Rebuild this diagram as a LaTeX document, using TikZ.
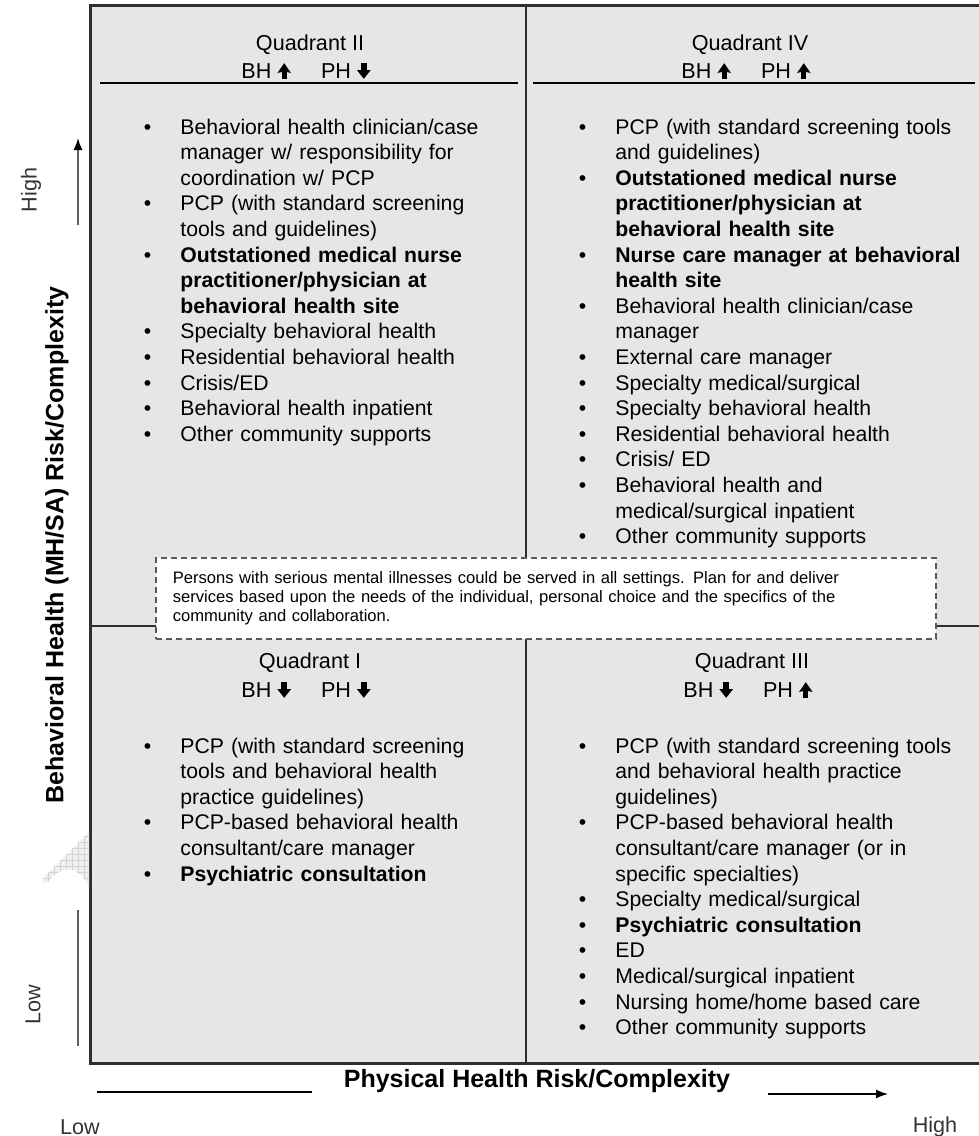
\documentclass[tikz,border=0pt]{standalone}
\usepackage{fontspec}
\setmainfont{Liberation Sans}
\usepackage{enumitem}
\usetikzlibrary{arrows.meta, patterns, positioning}

\definecolor{panelgray}{HTML}{E6E6E6}
\definecolor{framegray}{HTML}{2E2E2E}

% bullet list used in the four quadrants
\newlist{carelist}{itemize}{1}
\setlist[carelist]{label=\textbullet, leftmargin=18.5pt, labelsep=14.5pt,
  labelwidth=4pt, topsep=0pt, partopsep=0pt, itemsep=0pt, parsep=0pt}

% heavy up / down arrows for the BH and PH ratings
\newcommand{\riskup}{\tikz[baseline=0pt]{%
  \fill (-1.3pt,0pt) rectangle (1.3pt,4pt);
  \fill (-3.4pt,2.9pt) -- (0pt,7.8pt) -- (3.4pt,2.9pt) -- (0pt,3.7pt) -- cycle;}}
\newcommand{\riskdown}{\tikz[baseline=0pt]{%
  \fill (-1.4pt,3.2pt) rectangle (1.4pt,7.8pt);
  \fill (-3.4pt,4.3pt) -- (0pt,0pt) -- (3.4pt,4.3pt) -- cycle;}}

\begin{document}
\begin{tikzpicture}[x=0.5pt, y=-0.5pt,% one unit = one pixel, y downwards
          > = {Latex[length=6pt, width=4.5pt]},
frame/.style = {draw=framegray, line width=1.5pt},
divider/.style = {draw=framegray, line width=1pt},
quadhead/.style = {font=\fontsize{10.8}{13}\selectfont, inner sep=0pt},
headrule/.style = {draw=black, line width=0.7pt},
items/.style = {anchor=north west, inner sep=0pt, text width=200pt,
                align=left, font=\fontsize{10.6}{12.8}\selectfont},
notebox/.style = {draw=gray!70!black, densely dashed, line width=0.8pt,
                  fill=white, anchor=north west, inner xsep=8.5pt,
                  text width=373pt, align=left,
                  minimum width=390pt, minimum height=40.5pt,
                  font=\fontsize{8.3}{9.6}\selectfont},
axistitle/.style = {font=\fontsize{12.5}{15}\selectfont\bfseries, inner sep=0pt},
endlabel/.style = {font=\fontsize{10.8}{13}\selectfont, text=black!80, inner sep=0pt},
axisline/.style = {draw=gray!75!black, line width=0.8pt}
                    ]
\useasboundingbox (0,0) rectangle (979,1136);

	% grid of the four quadrants
	\fill[panelgray] (90,5) rectangle (990,1063);
	\draw[divider] (526,5) -- (526,1063);
	\draw[divider] (90,626) -- (990,626);
	\draw[frame] (990,5) -- (90,5) -- (90,1063) -- (990,1063);

	% stray hatched mark at the left edge
	\fill[gray!12] (89,832) -- (44,877) .. controls (41,881) and (44,885) .. (48,882)
	      .. controls (60,867) and (75,862) .. (89,886) -- cycle;
	\fill[pattern=grid, pattern color=gray!35] (89,832) -- (44,877)
	      .. controls (41,881) and (44,885) .. (48,882)
	      .. controls (60,867) and (75,862) .. (89,886) -- cycle;

	% Quadrant II
	\node[quadhead] (q2name)  at (310,45) {Quadrant II};
	\node[quadhead] (q2rates) at (306,71) {BH\hspace{3pt}\riskup\hspace{15pt}PH\hspace{3pt}\riskdown};
	\draw[headrule] (100,83) -- (518,83);
	\node[items] (q2list) at (143,108) {\begin{carelist}
		\item Behavioral health clinician/case\\manager w/ responsibility for\\coordination w/ PCP
		\item PCP (with standard screening\\tools and guidelines)
		\item \textbf{Outstationed medical nurse\\practitioner/physician at\\behavioral health site}
		\item Specialty behavioral health
		\item Residential behavioral health
		\item Crisis/ED
		\item Behavioral health inpatient
		\item Other community supports
	\end{carelist}};

	% Quadrant IV
	\node[quadhead] (q4name)  at (750,45) {Quadrant IV};
	\node[quadhead] (q4rates) at (746,71) {BH\hspace{3pt}\riskup\hspace{15pt}PH\hspace{3pt}\riskup};
	\draw[headrule] (533,83) -- (975,83);
	\node[items] (q4list) at (578,108) {\begin{carelist}
		\item PCP (with standard screening tools\\and guidelines)
		\item \textbf{Outstationed medical nurse\\practitioner/physician at\\behavioral health site}
		\item \textbf{Nurse care manager at behavioral\\health site}
		\item Behavioral health clinician/case\\manager
		\item External care manager
		\item Specialty medical/surgical
		\item Specialty behavioral health
		\item Residential behavioral health
		\item Crisis/ ED
		\item Behavioral health and\\medical/surgical inpatient
		\item Other community supports
	\end{carelist}};

	% Quadrant I
	\node[quadhead] (q1name)  at (310,663) {Quadrant I};
	\node[quadhead] (q1rates) at (306,690) {BH\hspace{3pt}\riskdown\hspace{15pt}PH\hspace{3pt}\riskdown};
	\node[items] (q1list) at (143,727) {\begin{carelist}
		\item PCP (with standard screening\\tools and behavioral health\\practice guidelines)
		\item PCP-based behavioral health\\consultant/care manager
		\item \textbf{Psychiatric consultation}
	\end{carelist}};

	% Quadrant III
	\node[quadhead] (q3name)  at (752,663) {Quadrant III};
	\node[quadhead] (q3rates) at (748,690) {BH\hspace{3pt}\riskdown\hspace{15pt}PH\hspace{3pt}\riskup};
	\node[items] (q3list) at (578,727) {\begin{carelist}
		\item PCP (with standard screening tools\\and behavioral health practice\\guidelines)
		\item PCP-based behavioral health\\consultant/care manager (or in\\specific specialties)
		\item Specialty medical/surgical
		\item \textbf{Psychiatric consultation}
		\item ED
		\item Medical/surgical inpatient
		\item Nursing home/home based care
		\item Other community supports
	\end{carelist}};

	% note across the middle
	\node[notebox] (note) at (155,557) {Persons with serious mental illnesses could be served in all settings. Plan for and deliver\\
		services based upon the needs of the individual, personal choice and the specifics of the\\
		community and collaboration.};

	% vertical axis
	\coordinate (bhtail) at (78,225);
	\coordinate (bhtip)  at (78,138);
	\draw[axisline, -{Latex[length=6pt, width=4.5pt, color=black]}] (bhtail) -- (bhtip);
	\draw[axisline] (78,910) -- (78,1046);
	\node[axistitle, rotate=90] (bhaxis) at (57,545) {Behavioral Health (MH/SA) Risk/Complexity};
	\node[endlabel, rotate=90] (bhhigh) at (31,190) {High};
	\node[endlabel, rotate=90] (bhlow)  at (33,1005) {Low};

	% horizontal axis
	\coordinate (phtail) at (768,1094);
	\coordinate (phtip)  at (888,1094);
	\draw[line width=0.7pt] (97,1092) -- (312,1092);
	\draw[line width=0.7pt, ->] (phtail) -- (phtip);
	\node[axistitle] (phaxis) at (537,1081) {Physical Health Risk/Complexity};
	\node[endlabel] (phlow)  at (80,1127) {Low};
	\node[endlabel] (phhigh) at (935,1127) {High};
\end{tikzpicture}
\end{document}
